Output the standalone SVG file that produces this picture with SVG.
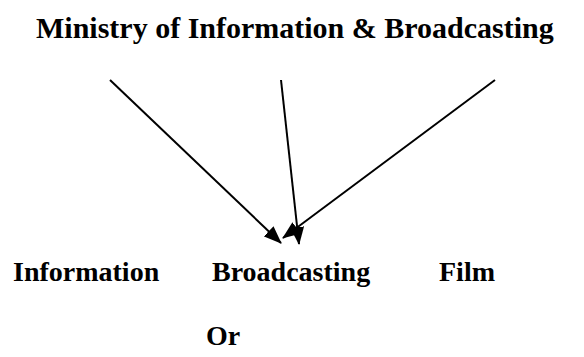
<svg xmlns="http://www.w3.org/2000/svg" width="584" height="357" viewBox="0 0 584 357">
<style>
.t{font-family:"Liberation Serif","Times New Roman",serif;font-weight:bold;fill:#000}
.h{font-size:30px}
.b{font-size:28px}
.c{stroke:#000;stroke-width:2;fill:none;marker-end:url(#ah)}
</style>
<defs>
<marker id="ah" markerUnits="userSpaceOnUse" markerWidth="18" markerHeight="14" refX="17" refY="7" orient="auto">
<path d="M0,0 L18,7 L0,14 z" fill="#000"/>
</marker>
</defs>
<rect width="584" height="357" fill="#fff"/>
<g id="ministry"><text class="t h" x="36" y="38">Ministry of Information &amp; Broadcasting</text></g>
<g id="connectors">
<line class="c" x1="110" y1="80" x2="281" y2="243"/>
<line class="c" x1="281" y1="80" x2="299" y2="244"/>
<line class="c" x1="495" y1="80" x2="283" y2="238"/>
</g>
<g id="information"><text class="t b" x="13" y="281">Information</text></g>
<g id="broadcasting"><text class="t b" x="212" y="281">Broadcasting</text></g>
<g id="film"><text class="t b" x="439" y="281">Film</text></g>
<g id="or"><text class="t b" x="206" y="345">Or</text></g>
</svg>
